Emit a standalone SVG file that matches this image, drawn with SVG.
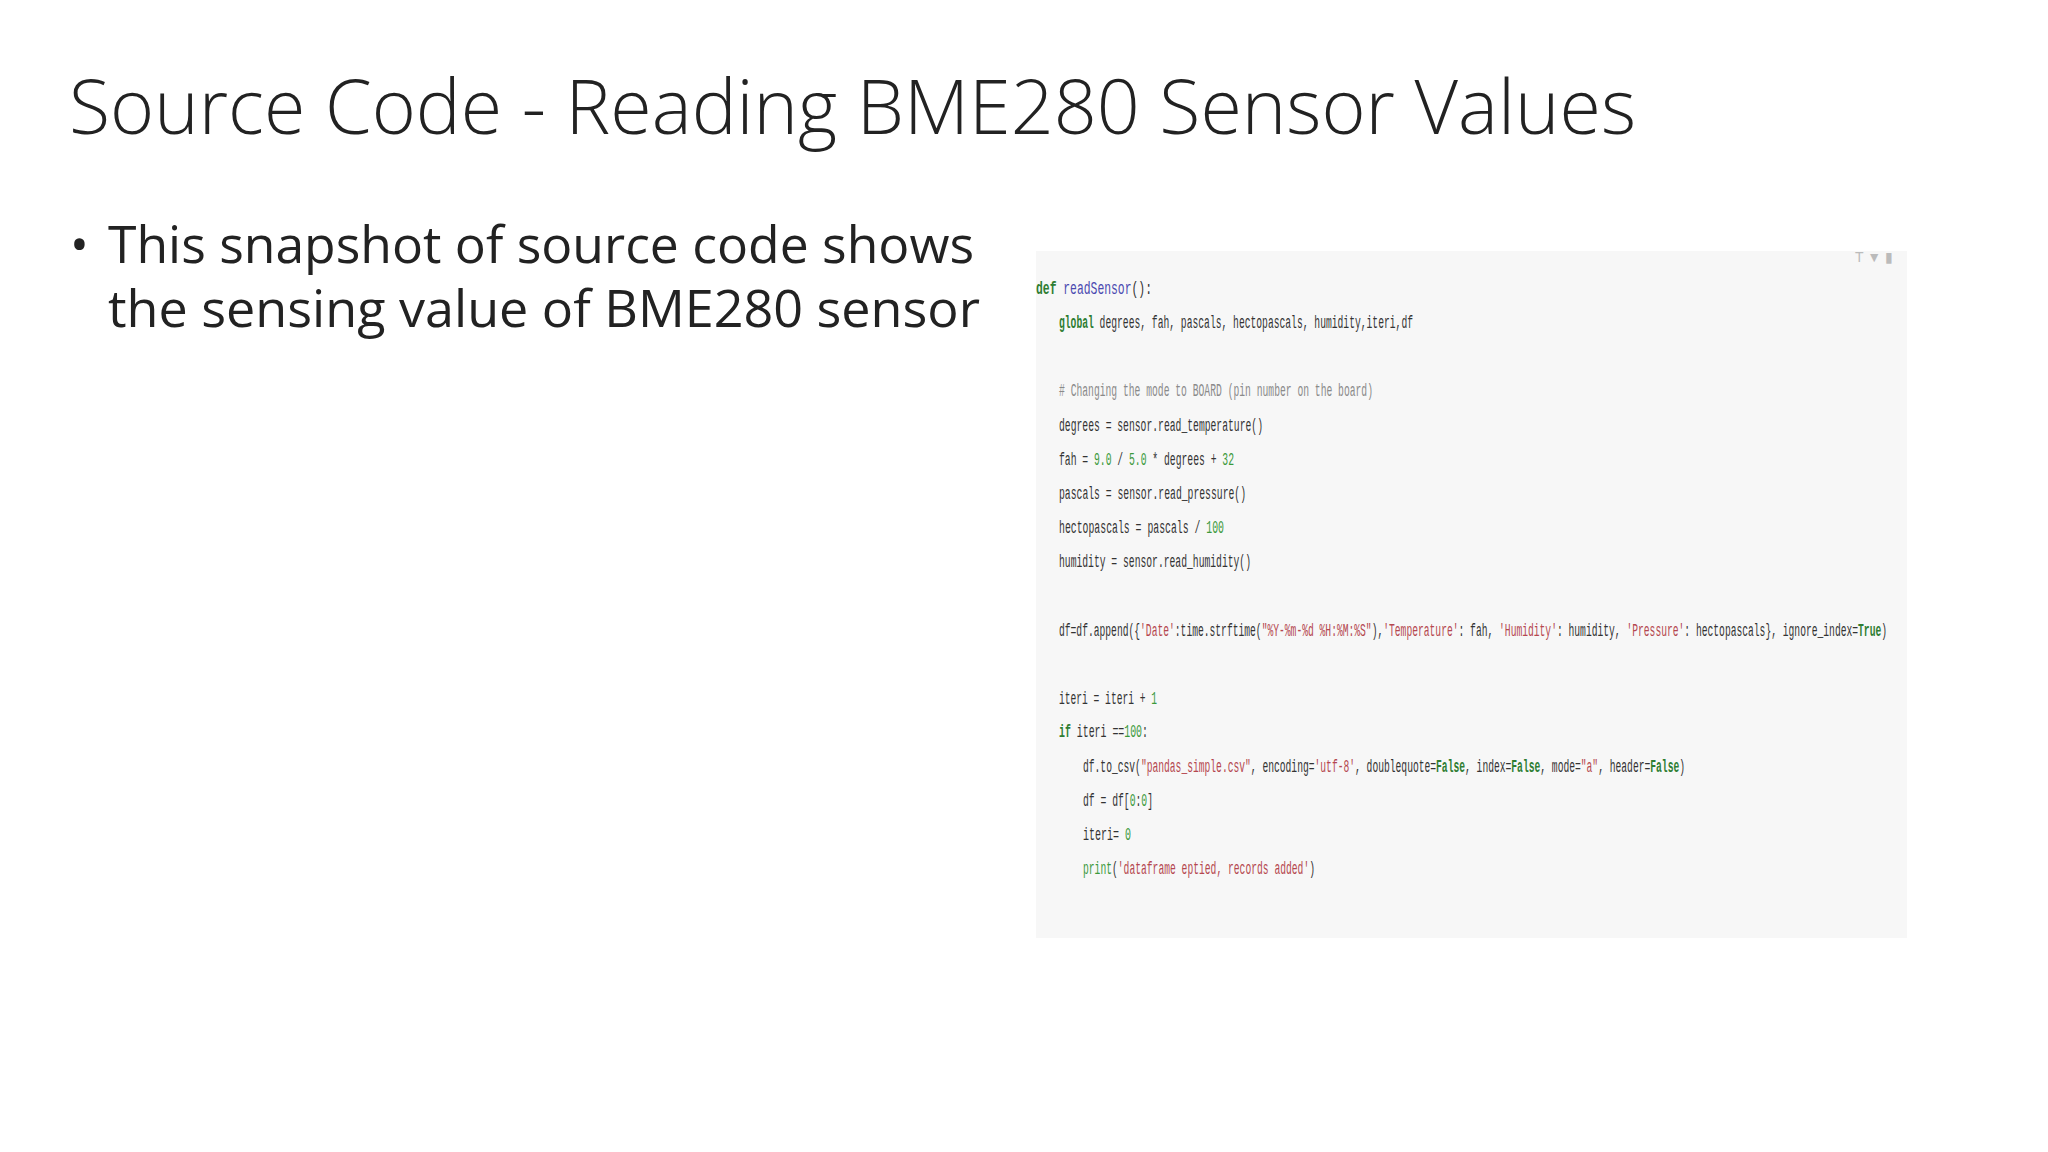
<svg xmlns="http://www.w3.org/2000/svg" width="2048" height="1152" viewBox="0 0 2048 1152">
<style>
.t{font-family:"Open Sans","Liberation Sans",sans-serif;fill:#222}
.c{font-family:"Liberation Mono",monospace;font-size:19px;fill:#333}
.k{fill:#2e7d32;font-weight:bold}
.s{fill:#b5474f}
.n{fill:#3c9a3c}
.g{fill:#8a8a8a}
.b{fill:#4a4ab0}
</style>
<rect width="2048" height="1152" fill="#fff"/>
<text class="t" x="69" y="134" font-size="76" font-weight="300" textLength="1567" lengthAdjust="spacingAndGlyphs">Source Code - Reading BME280 Sensor Values</text>
<g id="bullet">
<text class="t" x="70" y="262" font-size="50">•</text>
<text class="t" x="108" y="263" font-size="52" textLength="866" lengthAdjust="spacingAndGlyphs">This snapshot of source code shows</text>
<text class="t" x="108" y="327" font-size="52" textLength="872" lengthAdjust="spacingAndGlyphs">the sensing value of BME280 sensor</text>
</g>
<g id="code">
<rect x="1036" y="251" width="871" height="687" fill="#f7f7f7"/>
<text x="1855" y="262" font-family="Liberation Sans,sans-serif" font-size="14" fill="#bbb">T ▼ ▮</text>
<text class="c" x="1036" y="294" textLength="116" lengthAdjust="spacingAndGlyphs"><tspan class="k">def</tspan> <tspan class="b">readSensor</tspan>():</text>
<text class="c" x="1059" y="328" textLength="354" lengthAdjust="spacingAndGlyphs"><tspan class="k">global</tspan> degrees, fah, pascals, hectopascals, humidity,iteri,df</text>
<text class="c g" x="1059" y="396" textLength="314" lengthAdjust="spacingAndGlyphs"># Changing the mode to BOARD (pin number on the board)</text>
<text class="c" x="1059" y="431" textLength="204" lengthAdjust="spacingAndGlyphs">degrees = sensor.read_temperature()</text>
<text class="c" x="1059" y="465" textLength="175" lengthAdjust="spacingAndGlyphs">fah = <tspan class="n">9.0</tspan> / <tspan class="n">5.0</tspan> * degrees + <tspan class="n">32</tspan></text>
<text class="c" x="1059" y="499" textLength="187" lengthAdjust="spacingAndGlyphs">pascals = sensor.read_pressure()</text>
<text class="c" x="1059" y="533" textLength="165" lengthAdjust="spacingAndGlyphs">hectopascals = pascals / <tspan class="n">100</tspan></text>
<text class="c" x="1059" y="567" textLength="192" lengthAdjust="spacingAndGlyphs">humidity = sensor.read_humidity()</text>
<text class="c" x="1059" y="636" textLength="828" lengthAdjust="spacingAndGlyphs">df=df.append({<tspan class="s">'Date'</tspan>:time.strftime(<tspan class="s">"%Y-%m-%d %H:%M:%S"</tspan>),<tspan class="s">'Temperature'</tspan>: fah, <tspan class="s">'Humidity'</tspan>: humidity, <tspan class="s">'Pressure'</tspan>: hectopascals}, ignore_index=<tspan class="k">True</tspan>)</text>
<text class="c" x="1059" y="704" textLength="98" lengthAdjust="spacingAndGlyphs">iteri = iteri + <tspan class="n">1</tspan></text>
<text class="c" x="1059" y="737" textLength="89" lengthAdjust="spacingAndGlyphs"><tspan class="k">if</tspan> iteri ==<tspan class="n">100</tspan>:</text>
<text class="c" x="1083" y="772" textLength="602" lengthAdjust="spacingAndGlyphs">df.to_csv(<tspan class="s">"pandas_simple.csv"</tspan>, encoding=<tspan class="s">'utf-8'</tspan>, doublequote=<tspan class="k">False</tspan>, index=<tspan class="k">False</tspan>, mode=<tspan class="s">"a"</tspan>, header=<tspan class="k">False</tspan>)</text>
<text class="c" x="1083" y="806" textLength="70" lengthAdjust="spacingAndGlyphs">df = df[<tspan class="n">0</tspan>:<tspan class="n">0</tspan>]</text>
<text class="c" x="1083" y="840" textLength="48" lengthAdjust="spacingAndGlyphs">iteri= <tspan class="n">0</tspan></text>
<text class="c" x="1083" y="874" textLength="232" lengthAdjust="spacingAndGlyphs"><tspan class="n">print</tspan>(<tspan class="s">'dataframe eptied, records added'</tspan>)</text>
</g>
</svg>
